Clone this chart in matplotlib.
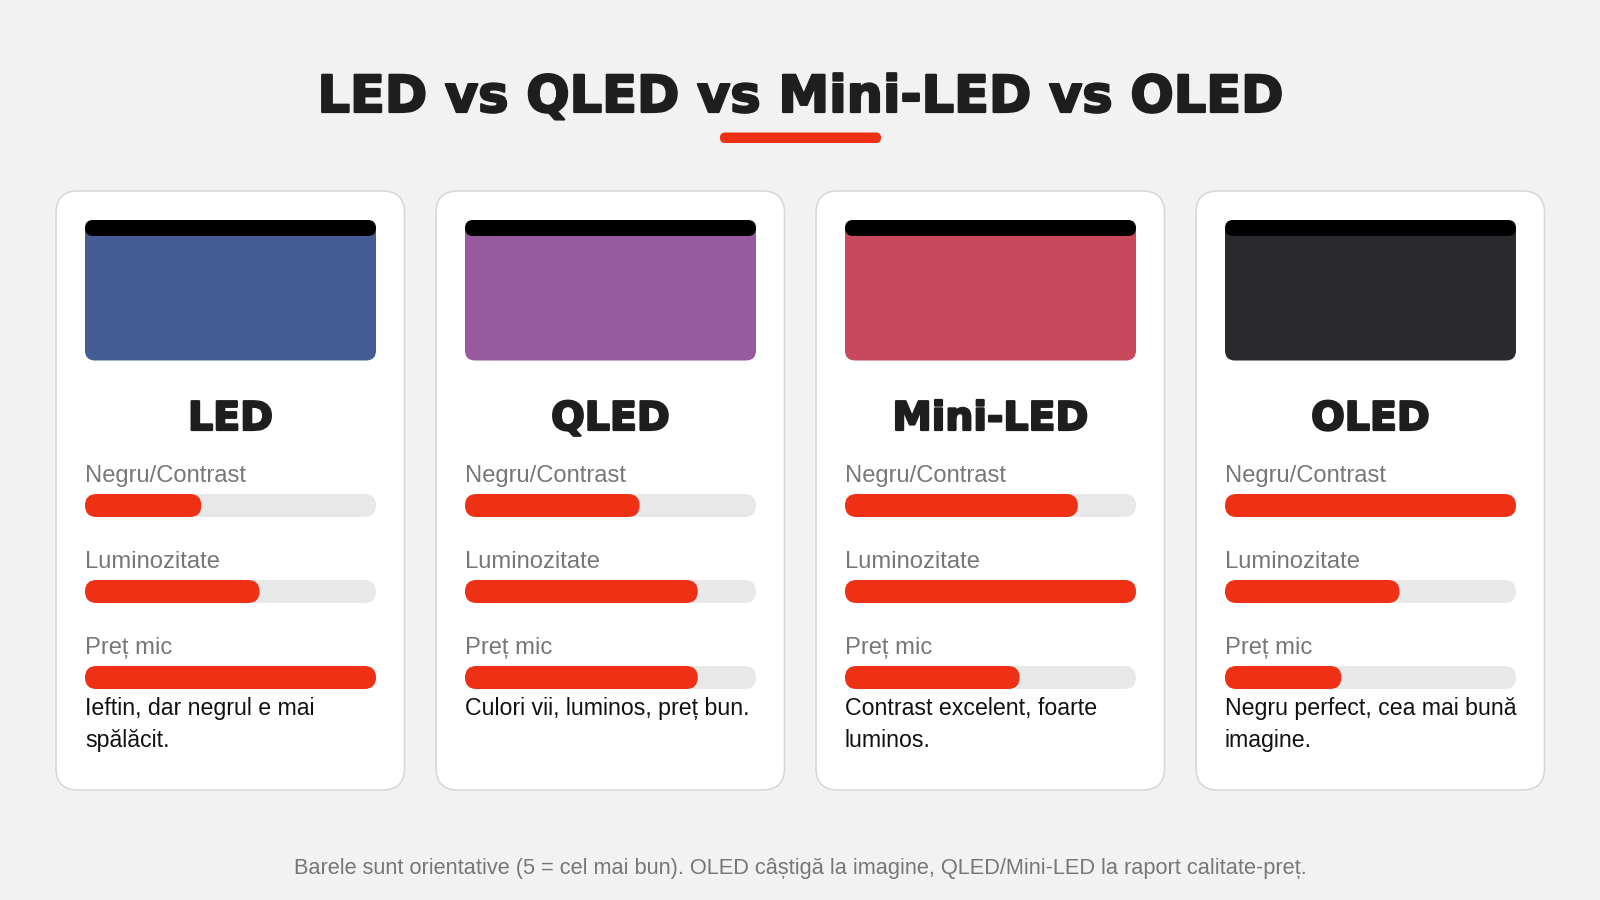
import matplotlib
matplotlib.use("Agg")
import matplotlib.pyplot as plt
import matplotlib.patheffects as pe
from matplotlib.patches import FancyBboxPatch

title = "LED vs QLED vs Mini-LED vs OLED"
footer = "Barele sunt orientative (5 = cel mai bun). OLED câștigă la imagine, QLED/Mini-LED la raport calitate-preț."
technologies = ["LED", "QLED", "Mini-LED", "OLED"]
metrics = ["Negru/Contrast", "Luminozitate", "Preț mic"]
contrast_scores = [2, 3, 4, 5]
brightness_scores = [3, 4, 5, 3]
price_scores = [5, 4, 3, 2]
max_score = 5
descriptions = [
    "Ieftin, dar negrul e mai\nspălăcit.",
    "Culori vii, luminos, preț bun.",
    "Contrast excelent, foarte\nluminos.",
    "Negru perfect, cea mai bună\nimagine.",
]
screen_colors = ["#465C94", "#975A9E", "#C8485C", "#2A2A2E"]

BG = "#F2F2F2"
RED = "#EE3014"
TRACK = "#E8E8E8"
INK = "#1E1E1E"
GREY = "#777777"
PX = 0.72  # font px -> pt at dpi 100
HEAVY = "DejaVu Sans"
BODY = "Liberation Sans"

fig = plt.figure(figsize=(16, 9), dpi=100, facecolor=BG)
ax = fig.add_axes([0, 0, 1, 1])
ax.set_xlim(0, 1600)
ax.set_ylim(900, 0)
ax.axis("off")


def rbox(x, y, w, h, r, color, ec="none", lw=0, z=1):
    p = FancyBboxPatch((x, y), w, h, boxstyle=f"round,pad=0,rounding_size={r}",
                       fc=color, ec=ec, lw=lw, zorder=z, mutation_aspect=1)
    ax.add_patch(p)


heavy = [pe.withStroke(linewidth=1.6, foreground=INK)]
ax.text(800, 112, title, ha="center", va="baseline", fontsize=51 * PX, family=HEAVY,
        weight="bold", color=INK, path_effects=heavy)
rbox(720, 132.5, 161, 10.5, 5, RED)

card_w, gap, x0 = 350, 30, 55
score_rows = [contrast_scores, brightness_scores, price_scores]
for i, name in enumerate(technologies):
    cx = x0 + i * (card_w + gap)
    rbox(cx + 1, 191, card_w - 1.5, 599, 22, "white", ec="#D6D6D6", lw=1.1)
    sx, sw = cx + 30, card_w - 59
    rbox(sx, 220, sw, 140.5, 10, screen_colors[i], z=2)
    rbox(sx, 220, sw, 16, 8, "black", z=3)
    ax.text(cx + card_w / 2 + 0.5, 430, name, ha="center", va="baseline", fontsize=39.5 * PX,
            family=HEAVY, weight="bold", color=INK, path_effects=heavy, zorder=4)
    for j, metric in enumerate(metrics):
        ax.text(sx, 482 + j * 86, metric, ha="left", va="baseline", fontsize=23.7 * PX,
                family=BODY, color=GREY, zorder=4)
        ty = 494 + j * 86
        rbox(sx, ty, sw, 23, 11.5, TRACK, z=2)
        rbox(sx, ty, sw * score_rows[j][i] / max_score, 23, 11.5, RED, z=3)
    for k, line in enumerate(descriptions[i].split("\n")):
        ax.text(sx, 715 + k * 32, line, ha="left", va="baseline", fontsize=23.1 * PX,
                family=BODY, color="#111111", zorder=4)

ax.text(800, 874, footer, ha="center", va="baseline", fontsize=21.8 * PX, family=BODY, color=GREY)

fig.savefig("out.png", dpi=100, facecolor=BG)
